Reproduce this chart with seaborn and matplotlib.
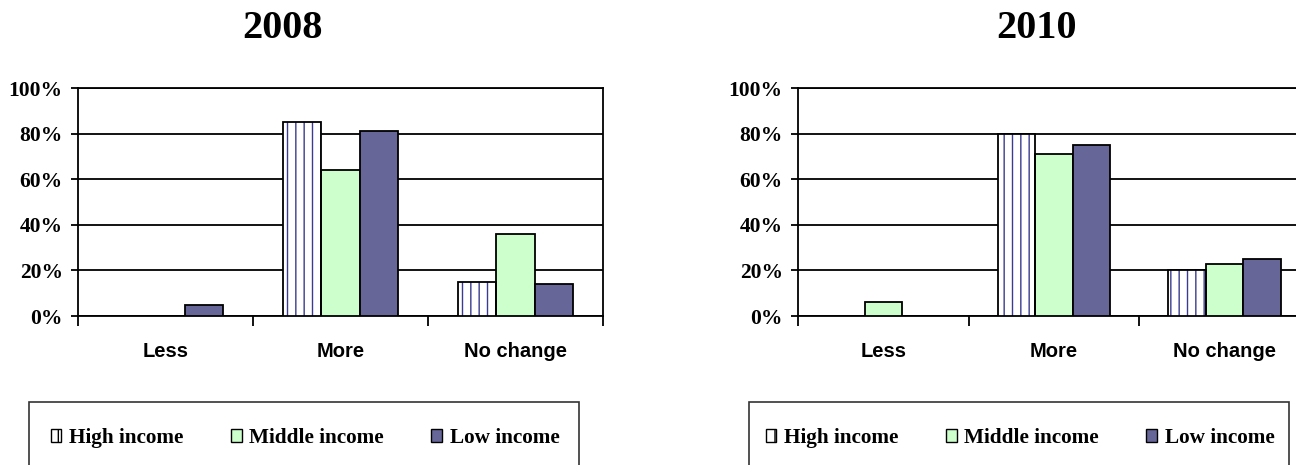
import matplotlib
matplotlib.use("Agg")
import matplotlib.pyplot as plt
from matplotlib.patches import Rectangle, Patch
import seaborn as sns
import pandas as pd

# Survey answers: share of respondents by income group
categories = ["Less", "More", "No change"]
income_groups = ["High income", "Middle income", "Low income"]
years = ["2008", "2010"]

high_2008 = [0, 85, 15]
middle_2008 = [0, 64, 36]
low_2008 = [5, 81, 14]

high_2010 = [0, 80, 20]
middle_2010 = [6, 71, 23]
low_2010 = [0, 75, 25]

y_ticks = [0, 20, 40, 60, 80, 100]
y_tick_labels = ["0%", "20%", "40%", "60%", "80%", "100%"]

series_by_year = {
    "2008": [high_2008, middle_2008, low_2008],
    "2010": [high_2010, middle_2010, low_2010],
}

palette = {"High income": "#FFFFFF", "Middle income": "#CCFFCC", "Low income": "#666699"}
hatch_color = "#3B3B8F"

sns.set_theme(style="white")
plt.rcParams.update({
    "hatch.linewidth": 1.0,
    "text.color": "black",
    "xtick.color": "black",
    "ytick.color": "black",
    "xtick.labelcolor": "black",
    "ytick.labelcolor": "black",
})

W, H = 1296, 465
fig = plt.figure(figsize=(W / 100, H / 100), dpi=100)


def px_axes(x0, y0, x1, y1):
    return fig.add_axes([x0 / W, 1 - y1 / H, (x1 - x0) / W, (y1 - y0) / H])


serif = "Liberation Serif"
sans = "Liberation Sans"

panels = [
    (years[0], (78, 88, 603, 316), 283, (29, 402, 579, 480)),
    (years[1], (798, 88, 1310, 316), 1037, (749, 402, 1289, 480)),
]

for year, box, title_x, legend_box in panels:
    ax = px_axes(*box)
    rows = []
    for grp, vals in zip(income_groups, series_by_year[year]):
        for cat, v in zip(categories, vals):
            rows.append({"change": cat, "share": v, "income": grp})
    df = pd.DataFrame(rows)

    sns.barplot(data=df, x="change", y="share", hue="income",
                order=categories, hue_order=income_groups, palette=palette,
                width=0.66, gap=0, edgecolor="black", linewidth=1.3,
                saturation=1, legend=False, ax=ax, zorder=3)

    # Vertical stripes for the high-income bars, with a black outline on top
    for bar in ax.containers[0]:
        bar.set_hatch("||")
        bar.set_edgecolor(hatch_color)
        bar.set_linewidth(0)
        if bar.get_height() > 0:
            ax.add_patch(Rectangle((bar.get_x(), bar.get_y()), bar.get_width(),
                                   bar.get_height(), fill=False, edgecolor="black",
                                   linewidth=1.3, zorder=4))

    ax.set_ylim(0, 100)
    ax.set_xlim(-0.5, len(categories) - 0.5)
    ax.set_yticks(y_ticks)
    ax.set_yticklabels(y_tick_labels, fontfamily=serif, fontweight="bold", fontsize=15.5)
    ax.yaxis.grid(True, color="black", linewidth=1.3)
    ax.xaxis.grid(False)
    ax.set_axisbelow(True)

    ax.set_xticks(range(len(categories)))
    ax.set_xticklabels(categories, fontfamily=sans, fontweight="bold", fontsize=14.5)
    ax.set_xticks([i - 0.5 for i in range(len(categories) + 1)], minor=True)
    ax.tick_params(axis="x", which="major", length=0, pad=19)
    ax.tick_params(axis="x", which="minor", length=7, width=1.3, direction="out",
                   bottom=True, color="black")
    ax.tick_params(axis="y", length=5, width=1.3, direction="out", left=True, pad=6)
    ax.set_xlabel("")
    ax.set_ylabel("")
    for s in ax.spines.values():
        s.set_color("black")
        s.set_linewidth(1.3)

    fig.text(title_x / W, 1 - 28 / H, year, ha="center", va="center",
             fontfamily=serif, fontweight="bold", fontsize=29, color="black")

    # Legend frame (runs past the lower edge of the figure)
    lx0, ly0, lx1, ly1 = legend_box
    fig.patches.append(Rectangle((lx0 / W, 1 - ly1 / H), (lx1 - lx0) / W, (ly1 - ly0) / H,
                                 transform=fig.transFigure, fill=False,
                                 edgecolor="#333333", linewidth=1.2))
    handles = []
    for grp in income_groups:
        if grp == "High income":
            handles.append(Patch(facecolor="white", edgecolor="black", hatch="|",
                                 linewidth=1.0, label=grp))
        else:
            handles.append(Patch(facecolor=palette[grp], edgecolor="black",
                                 linewidth=1.0, label=grp))
    fig.legend(handles=handles, loc="center", ncol=3, frameon=False,
               bbox_to_anchor=((lx0 + lx1) / 2 / W + 1 / W, 1 - 438 / H),
               prop={"family": serif, "weight": "bold", "size": 15.3},
               handlelength=0.5, handleheight=0.5, handletextpad=0.35,
               columnspacing=2.25, borderpad=0, borderaxespad=0)

fig.savefig("out.png", dpi=100)
